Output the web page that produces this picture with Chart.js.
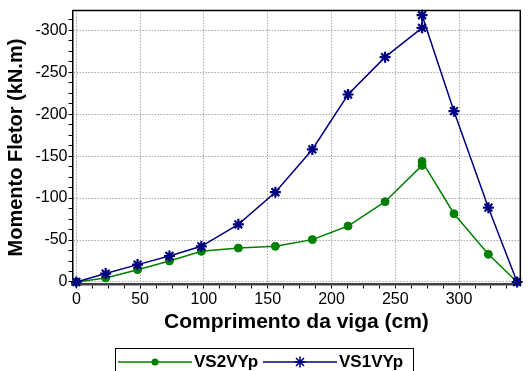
<!DOCTYPE html>
<html lang="pt">
<head>
  <meta charset="UTF-8">
  <title>Momento Fletor</title>
  <script src="https://cdn.jsdelivr.net/npm/chart.js"></script>
  <style>
    body { margin: 0; background: #fff; font-family: "Liberation Sans", Arial, sans-serif; }
    #wrap { position: relative; width: 528px; height: 371px; overflow: hidden; }
    #legenda { position: absolute; left: 115px; top: 348px; width: 299px; height: 34px;
      border: 1.5px solid #000; box-sizing: border-box; }
    .item { position: absolute; top: 3px; height: 20px; }
    .item svg { position: absolute; left: 0; top: 3px; }
    .item span { position: absolute; top: 0; font-weight: bold; font-size: 17px; line-height: 20px; color: #000; white-space: nowrap; }
  </style>
</head>
<body>
  <div id="wrap">
    <canvas id="grafico" width="528" height="371"></canvas>
    <div id="legenda"></div>
  </div>

  <script>
    // posicao ao longo da viga (cm)
    const posicoes = [0, 23, 48, 73, 98, 127, 156, 185, 213, 242, 271, 271, 296, 323, 345.5];
    // momento fletor (kN.m)
    const vs2vyp = [0, -4.8, -14.7, -25, -36.5, -40.5, -42.5, -50.5, -66.7, -95.7, -139, -143.7, -81.4, -33, 0];
    const vs1vyp = [0, -10, -20.7, -31, -42.5, -68.7, -107, -158, -223.5, -268, -303, -318, -203.6, -88.6, 0];

    const ticksX = [0, 50, 100, 150, 200, 250, 300];
    const ticksY = [0, -50, -100, -150, -200, -250, -300];
    const passoMenor = 12.5;

    const verde = '#008000';
    const azul = '#000080';
    const fonte = '"Liberation Sans", Arial, sans-serif';

    const pontos = ys => posicoes.map((x, i) => ({ x: x, y: ys[i] }));

    function menores(de, ate, passo) {
      const arr = [];
      for (let v = de; passo > 0 ? v <= ate : v >= ate; v += passo) arr.push({ value: v });
      return arr;
    }

    const moldura = {
      id: 'moldura',
      afterDraw(chart) {
        const { ctx, chartArea: a } = chart;
        ctx.save();
        ctx.strokeStyle = '#000';
        ctx.lineWidth = 1.5;
        ctx.beginPath();
        ctx.moveTo(a.left, a.top);
        ctx.lineTo(a.right, a.top);
        ctx.lineTo(a.right, a.bottom);
        ctx.stroke();
        ctx.restore();
      }
    };

    const series = [
      { label: 'VS2VYp', data: pontos(vs2vyp), borderColor: verde, backgroundColor: verde,
        pointStyle: 'circle', pointRadius: 4, pointBorderWidth: 1, order: 2 },
      { label: 'VS1VYp', data: pontos(vs1vyp), borderColor: azul, backgroundColor: azul,
        pointStyle: 'star', pointRadius: 5.5, pointBorderWidth: 2.2, order: 1 }
    ];

    new Chart(document.getElementById('grafico'), {
      type: 'scatter',
      data: {
        datasets: series.map(s => ({
          label: s.label, data: s.data, showLine: true,
          borderColor: s.borderColor, backgroundColor: s.backgroundColor,
          borderWidth: 1.5, pointStyle: s.pointStyle, pointRadius: s.pointRadius,
          pointBorderWidth: s.pointBorderWidth, pointHoverRadius: s.pointRadius,
          order: s.order, clip: 8
        }))
      },
      options: {
        responsive: false,
        animation: false,
        layout: { padding: { top: 10, right: 3.5, left: 0, bottom: 0 } },
        plugins: { legend: { display: false }, tooltip: { enabled: false } },
        scales: {
          x: {
            type: 'linear', min: -3, max: 348,
            afterBuildTicks: s => { s.ticks = menores(0, 340, passoMenor); },
            afterFit: s => { s.height = 86.5; },
            ticks: {
              autoSkip: false, maxRotation: 0, padding: 1, color: '#000',
              font: { family: fonte, size: 16 },
              callback: v => ticksX.includes(v) ? String(v) : ''
            },
            grid: {
              color: c => c.tick && ticksX.includes(c.tick.value) ? '#a8a8a8' : 'rgba(0,0,0,0)',
              lineWidth: 1, tickColor: '#000', tickLength: 4, tickWidth: 1, tickBorderDash: []
            },
            border: { color: '#404040', width: 2.5, dash: [1.5, 1.5] },
            title: {
              display: true, text: 'Comprimento da viga (cm)', color: '#000',
              font: { family: fonte, size: 21, weight: 'bold' },
              padding: { top: 0, bottom: 36 }
            }
          },
          y: {
            type: 'linear', reverse: true, min: -323.5, max: 3,
            afterBuildTicks: s => { s.ticks = menores(0, -315, -passoMenor); },
            afterFit: s => { s.width = 72.5; },
            ticks: {
              autoSkip: false, padding: 1, color: '#000',
              font: { family: fonte, size: 16 },
              callback: v => ticksY.includes(v) ? String(v) : ''
            },
            grid: {
              color: c => c.tick && ticksY.includes(c.tick.value) ? '#a8a8a8' : 'rgba(0,0,0,0)',
              lineWidth: 1, tickColor: '#000', tickLength: 4, tickWidth: 1, tickBorderDash: []
            },
            border: { color: '#000', width: 1.5, dash: [1.5, 1.5] },
            title: {
              display: true, text: 'Momento Fletor (kN.m)', color: '#000',
              font: { family: fonte, size: 20, weight: 'bold' },
              padding: { top: 4.5, bottom: 0 }
            }
          }
        }
      },
      plugins: [moldura]
    });

    // legenda em HTML
    function marcador(s) {
      let m = '';
      if (s.pointStyle === 'circle') {
        m = `<circle cx="37" cy="7" r="3.5" fill="${s.borderColor}"/>`;
      } else {
        m = `<g stroke="${s.borderColor}" stroke-width="1.6">
               <line x1="37" y1="1.5" x2="37" y2="12.5"/><line x1="31.5" y1="7" x2="42.5" y2="7"/>
               <line x1="33" y1="3" x2="41" y2="11"/><line x1="33" y1="11" x2="41" y2="3"/></g>`;
      }
      return `<svg width="74" height="14"><line x1="0" y1="7" x2="74" y2="7" stroke="${s.borderColor}" stroke-width="1.5"/>${m}</svg>`;
    }
    const leg = document.getElementById('legenda');
    const inicio = [2, 147];
    leg.innerHTML = series.map((s, i) =>
      `<div class="item" style="left:${inicio[i]}px">${marcador(s)}<span style="left:76px">${s.label}</span></div>`
    ).join('');
  </script>
</body>
</html>
